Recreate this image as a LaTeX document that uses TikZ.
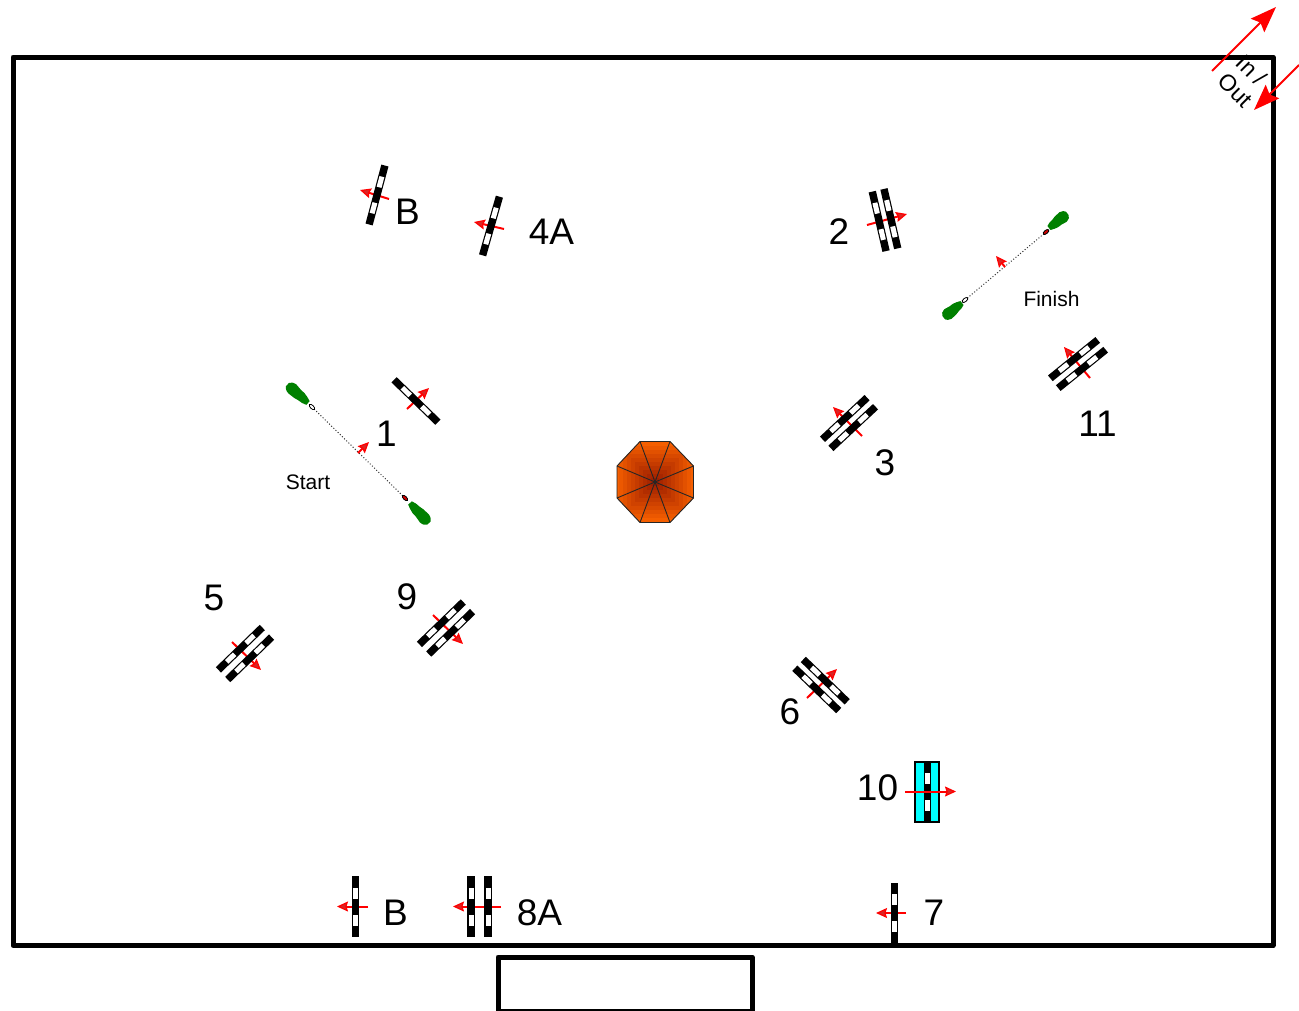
\documentclass[tikz,border=0pt]{standalone}
\usepackage{fontspec}
\setmainfont{Liberation Sans}
\usetikzlibrary{arrows.meta}
\definecolor{gatecyan}{rgb}{0,1,1}
\definecolor{tentedge}{rgb}{1,0.4,0}
\definecolor{tentdark}{rgb}{0.62,0.12,0}
\definecolor{flaggreen}{rgb}{0,0.5,0}
\tikzset{
  frameline/.style={draw=black,line width=5pt,line join=round},
  bignum/.style={font=\fontsize{37}{37}\selectfont,inner sep=0pt},
  smalltext/.style={font=\fontsize{21}{21}\selectfont,inner sep=0pt},
  cornertext/.style={font=\fontsize{23}{23}\selectfont,inner sep=0pt,rotate=-45},
  gatearrow/.style={draw=red,line width=2pt,-{Stealth[length=11pt,width=10pt,inset=1.5pt,line width=1.2pt,fill=red!70!gray]}},
  bigarrow/.style={draw=red,line width=2pt,-{Stealth[length=26pt,width=19pt,inset=4pt,fill=red]}},
  lineofstart/.style={draw=black!80,line width=1pt,dotted},
  pinwhite/.style={draw=black,fill=white,line width=.8pt},
  pinred/.style={draw=black,fill=red!80!black,line width=.8pt},
}
\newcommand{\onebar}[1]{%
  \begin{scope}[yshift=#1pt]
    \fill[black] (-30.5,-3.7) rectangle (30.5,3.7);
    \fill[white] (-19,-2.5) rectangle (-8,2.5);
    \fill[white] (8,-2.5) rectangle (19,2.5);
  \end{scope}}
\newcommand{\singlegate}[3]{\begin{scope}[shift={(#1,#2)},rotate=#3]\onebar{0}\end{scope}}
\newcommand{\doublegate}[4]{\begin{scope}[shift={(#1,#2)},rotate=#3]\onebar{-#4}\onebar{#4}\end{scope}}
\newcommand{\flagat}[4]{%
  \begin{scope}[shift={(#1,#2)},rotate=#3,xscale=#4]
    \fill[flaggreen] (0,-2.5) -- (5,-4) -- (10,-4.5) -- (15,-5.5) -- (23,-6)
      .. controls (27,-5.5) and (29,-4) .. (30,-2.5)
      -- (30,2) .. controls (29,4) and (27,5.5) .. (23,6)
      -- (15,5) -- (10,5) -- (5,4) -- (0,2.5) -- cycle;
  \end{scope}}
\begin{document}
\begin{tikzpicture}[x=1pt,y=-1pt]
\useasboundingbox (0,0) rectangle (1299,1010);
% frames
\draw[frameline] (13,57) rectangle (1273,945.5);
\draw[frameline] (498,957) rectangle (752,1011);
% gate arrows (behind the bars)
\draw[gatearrow] (389,199) -- (360,190);
\draw[gatearrow] (504,229) -- (474,222);
\draw[gatearrow] (867,225) -- (907,214);
\draw[gatearrow] (407,409) -- (429,388);
\draw[gatearrow] (862,436) -- (833,407);
\draw[gatearrow] (1090,378) -- (1064,347);
\draw[gatearrow] (232,642) -- (261,670);
\draw[gatearrow] (433,615) -- (463,644);
\draw[gatearrow] (807,698) -- (837,669);
\draw[gatearrow] (368,906.5) -- (337,906.5);
\draw[gatearrow] (501,906.5) -- (453,906.5);
\draw[gatearrow] (906,913) -- (876,913);
% gates
\singlegate{377}{195}{75}
\singlegate{491}{226}{74}
\doublegate{885}{220}{-77}{6}
\singlegate{416}{401}{-44}
\doublegate{849}{423}{43}{6.2}
\doublegate{1078}{364}{39}{6.3}
\doublegate{245}{653.5}{44}{6.7}
\doublegate{446}{628}{44}{6.7}
\doublegate{821}{685}{-44}{6.1}
\singlegate{355.3}{906.5}{90}
\doublegate{479.5}{906.5}{90}{8.5}
\singlegate{894.3}{913}{90}
\fill[gatecyan] (915,762) rectangle (939,822);
\draw[black,line width=1.4pt] (915,762) rectangle (939,822);
\singlegate{927.5}{791.5}{90}
\draw[gatearrow] (905,791.5) -- (956,791.5);
% start line
\draw[lineofstart] (312,407) -- (405,498);
\flagat{308}{403}{138}{0.92}
\flagat{410}{503}{-47}{0.92}
\draw[pinwhite,rotate around={-45:(312,407)}] (312,407) ellipse (3.4pt and 1.7pt);
\draw[pinred,rotate around={-45:(405,498)}] (405,498) ellipse (3.4pt and 1.7pt);
\draw[gatearrow] (358,453) -- (369,442);
% finish line
\draw[lineofstart] (965,300) -- (1046,232);
\flagat{962}{303}{-142}{0.78}
\flagat{1049}{228}{38}{0.78}
\draw[pinwhite,rotate around={40:(965,300)}] (965,300) ellipse (3.4pt and 1.7pt);
\draw[pinred,rotate around={40:(1046,232)}] (1046,232) ellipse (3.4pt and 1.7pt);
\draw[gatearrow] (1005,267) -- (996,256);
% tent
\begin{scope}
  \clip (640,441.5) -- (670,441.5) -- (693.5,466) -- (693.5,498) -- (670,522.5) -- (640,522.5) -- (617,498) -- (617,466) -- cycle;
  \foreach \r [evaluate=\r as \m using {100-(\r-4)*100/40}] in {44,40,36,32,28,24,20,16,12,8,4}{
    \fill[tentdark!\m!tentedge] (655-\r,482-\r) rectangle (655+\r,482+\r);
  }
\end{scope}
\draw[black!85,line width=.9pt] (640,441.5) -- (670,441.5) -- (693.5,466) -- (693.5,498) -- (670,522.5) -- (640,522.5) -- (617,498) -- (617,466) -- cycle;
\foreach \a/\b in {640/441.5,670/441.5,693.5/466,693.5/498,670/522.5,640/522.5,617/498,617/466}
  \draw[black!85,line width=.9pt] (655,482) -- (\a,\b);
% corner arrows
\draw[bigarrow] (1212,71) -- (1276,7);
\draw[bigarrow] (1299,65) -- (1254,110);
\node[cornertext] (inlabel) at (1252,70) {In /};
\node[cornertext] (outlabel) at (1235.5,90) {Out};
% labels
\node[bignum] (lb1) at (407.5,212) {B};
\node[bignum] (l4a) at (551.5,232) {4A};
\node[bignum] (l2) at (839,232) {2};
\node[bignum] (l1) at (386.5,434) {1};
\node[bignum] (l3) at (885,463) {3};
\node[bignum] (l11) at (1097.5,424) {11};
\node[bignum] (l5) at (214,598) {5};
\node[bignum] (l9) at (407,597) {9};
\node[bignum] (l6) at (790,712) {6};
\node[bignum] (l10) at (877.5,788) {10};
\node[bignum] (l7) at (934,913) {7};
\node[bignum] (lb2) at (395.5,913) {B};
\node[bignum] (l8a) at (539.5,913) {8A};
\node[smalltext] (lstart) at (308,482) {Start};
\node[smalltext] (lfinish) at (1051.5,298.5) {Finish};
\end{tikzpicture}
\end{document}
